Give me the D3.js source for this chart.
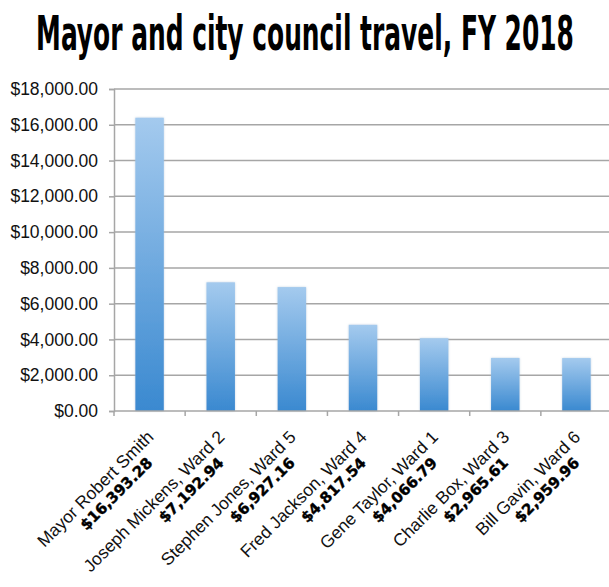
<!DOCTYPE html>
<html><head><meta charset="utf-8">
<script src="https://cdn.jsdelivr.net/npm/d3@7"></script>
<style>body{margin:0;background:#fff}svg{display:block}</style>
</head><body>
<svg id="c" width="609" height="587"></svg>
<script>
const names = ["Mayor Robert Smith","Joseph Mickens, Ward 2","Stephen Jones, Ward 5","Fred Jackson, Ward 4","Gene Taylor, Ward 1","Charlie Box, Ward 3","Bill Gavin, Ward 6"];
const values = [16393.28, 7192.94, 6927.16, 4817.54, 4066.79, 2965.61, 2959.96];
const yTicks = [0,2000,4000,6000,8000,10000,12000,14000,16000,18000];
const title = "Mayor and city council travel, FY 2018";

(function(){
const svg = d3.select("#c");
const mL = 114, mR = 612, mT = 89, mB = 411;
const x = d3.scaleBand().domain(names).range([mL, mR]).paddingInner(0.6).paddingOuter(0.3);
const y = d3.scaleLinear().domain([0,18000]).range([mB, mT]);

const defs = svg.append("defs");
const g = defs.append("linearGradient").attr("id","bg").attr("x1",0).attr("y1",0).attr("x2",0).attr("y2",1);
g.append("stop").attr("offset","0%").attr("stop-color","#a4caee");
g.append("stop").attr("offset","100%").attr("stop-color","#3a89d0");
const f = defs.append("filter").attr("id","sh").attr("x","-20%").attr("y","-5%").attr("width","140%").attr("height","110%");
f.append("feGaussianBlur").attr("in","SourceAlpha").attr("stdDeviation",1.2).attr("result","b");
f.append("feFlood").attr("flood-color","#9fb8d0").attr("flood-opacity",0.6);
f.append("feComposite").attr("in2","b").attr("operator","in").attr("result","s");
const fm = f.append("feMerge"); fm.append("feMergeNode").attr("in","s"); fm.append("feMergeNode").attr("in","SourceGraphic");

const tg = svg.append("g");
const tt = tg.append("text").attr("x",0).attr("y",0).attr("text-anchor","middle")
  .attr("font-family","DejaVu Sans Condensed, DejaVu Sans").attr("font-weight","bold").attr("font-size",48)
  .attr("fill","#000").text(title);
const nat = tt.node().getComputedTextLength();
tg.attr("transform",`translate(305,50) scale(${538/nat},1)`);

svg.append("g").selectAll("line").data(yTicks.filter(d=>d>0)).join("line")
  .attr("x1",mL).attr("x2",609).attr("y1",d=>y(d)).attr("y2",d=>y(d))
  .attr("stroke","#a6a6a6").attr("stroke-width",1.5);

const ya = svg.append("g").attr("transform",`translate(${mL},0)`)
  .call(d3.axisLeft(y).tickValues(yTicks).tickSize(5).tickPadding(11).tickFormat(d=>"$"+d3.format(",.2f")(d)));
ya.select(".domain").attr("stroke","#a6a6a6").attr("stroke-width",1.5);
ya.selectAll(".tick line").attr("stroke","#a6a6a6").attr("stroke-width",1.5);
ya.selectAll("text").attr("font-family","Liberation Sans, Arial").attr("font-size",17.5).attr("fill","#111");

svg.append("g").selectAll("rect").data(names).join("rect")
  .attr("x",d=>x(d)).attr("width",x.bandwidth())
  .attr("y",(d,i)=>y(values[i])).attr("height",(d,i)=>mB-y(values[i]))
  .attr("fill","url(#bg)").attr("filter","url(#sh)");

const step = x.step();
svg.append("line").attr("x1",mL).attr("x2",609).attr("y1",mB).attr("y2",mB).attr("stroke","#a6a6a6").attr("stroke-width",1.5);
svg.append("g").selectAll("line").data(d3.range(names.length)).join("line")
  .attr("x1",i=>mL+i*step).attr("x2",i=>mL+i*step).attr("y1",mB).attr("y2",mB+5)
  .attr("stroke","#a6a6a6").attr("stroke-width",1.5);

const lab = svg.append("g").selectAll("g").data(names).join("g")
  .attr("transform",d=>`translate(${x(d)+x.bandwidth()/2+5},${mB+27}) rotate(-45)`);
lab.append("text").attr("text-anchor","end").attr("font-family","Liberation Sans, Arial").attr("font-size",17.5)
  .attr("fill","#111").text(d=>d);
lab.append("text").attr("text-anchor","end").attr("x",-19).attr("y",17.5)
  .attr("font-family","DejaVu Sans").attr("font-weight","bold").attr("font-size",15).attr("fill","#000")
  .attr("stroke","#000").attr("stroke-width",0.4)
  .text((d,i)=>"$"+d3.format(",.2f")(values[i]));
})();
</script>
</body></html>
